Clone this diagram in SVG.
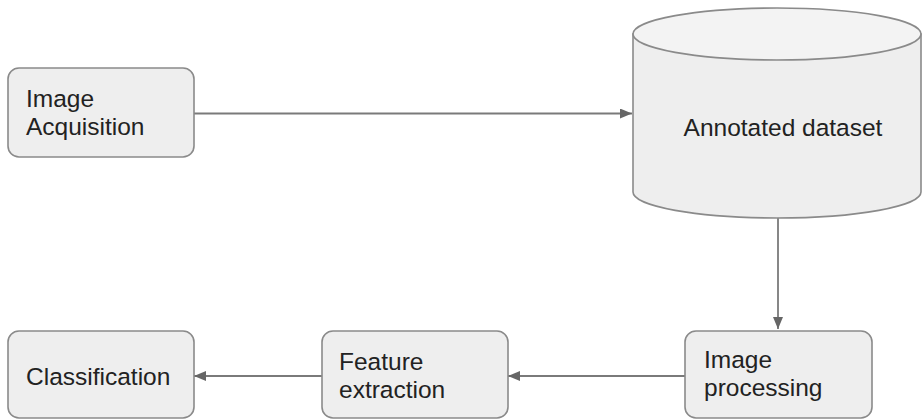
<svg xmlns="http://www.w3.org/2000/svg" width="923" height="420" viewBox="0 0 923 420">
  <style>
    .box { fill: #eeeeee; stroke: #8a8a8a; stroke-width: 1.6; }
    .cyl { fill: #eeeeee; stroke: #8a8a8a; stroke-width: 1.6; }
    .cyltop { fill: #f3f3f3; stroke: #8a8a8a; stroke-width: 1.6; }
    .lbl { font-family: "Liberation Sans", Arial, sans-serif; font-size: 24.5px; fill: #222222; }
    .edge { stroke: #7a7a7a; stroke-width: 1.8; fill: none; marker-end: url(#arrow); }
  </style>
  <defs>
    <marker id="arrow" markerWidth="12" markerHeight="10" refX="12" refY="5" orient="auto" markerUnits="userSpaceOnUse">
      <path d="M0,0 L12,5 L0,10 Z" fill="#666666"/>
    </marker>
  </defs>
  <rect width="923" height="420" fill="#ffffff"/>

  <g id="connectors">
    <line class="edge" x1="194" y1="113.5" x2="632" y2="113.5"/>
    <line class="edge" x1="778" y1="218" x2="778" y2="329"/>
    <line class="edge" x1="685" y1="376" x2="508" y2="376"/>
    <line class="edge" x1="322" y1="376" x2="194" y2="376"/>
  </g>

  <g id="image-acquisition">
    <rect class="box" x="8" y="68" width="186" height="89" rx="11"/>
    <text class="lbl" x="26" y="107">Image</text>
    <text class="lbl" x="26" y="135">Acquisition</text>
  </g>

  <g id="annotated-dataset">
    <path class="cyl" d="M633,34 L633,192 A144,26 0 0 0 921,192 L921,34 Z"/>
    <ellipse class="cyltop" cx="777" cy="34" rx="144" ry="26"/>
    <text class="lbl" x="783" y="136" text-anchor="middle">Annotated dataset</text>
  </g>

  <g id="image-processing">
    <rect class="box" x="685" y="331" width="187" height="87" rx="11"/>
    <text class="lbl" x="704" y="368">Image</text>
    <text class="lbl" x="704" y="396">processing</text>
  </g>

  <g id="feature-extraction">
    <rect class="box" x="322" y="331" width="186" height="87" rx="11"/>
    <text class="lbl" x="339" y="370">Feature</text>
    <text class="lbl" x="339" y="398">extraction</text>
  </g>

  <g id="classification">
    <rect class="box" x="8" y="331" width="186" height="87" rx="11"/>
    <text class="lbl" x="26" y="385">Classification</text>
  </g>
</svg>
